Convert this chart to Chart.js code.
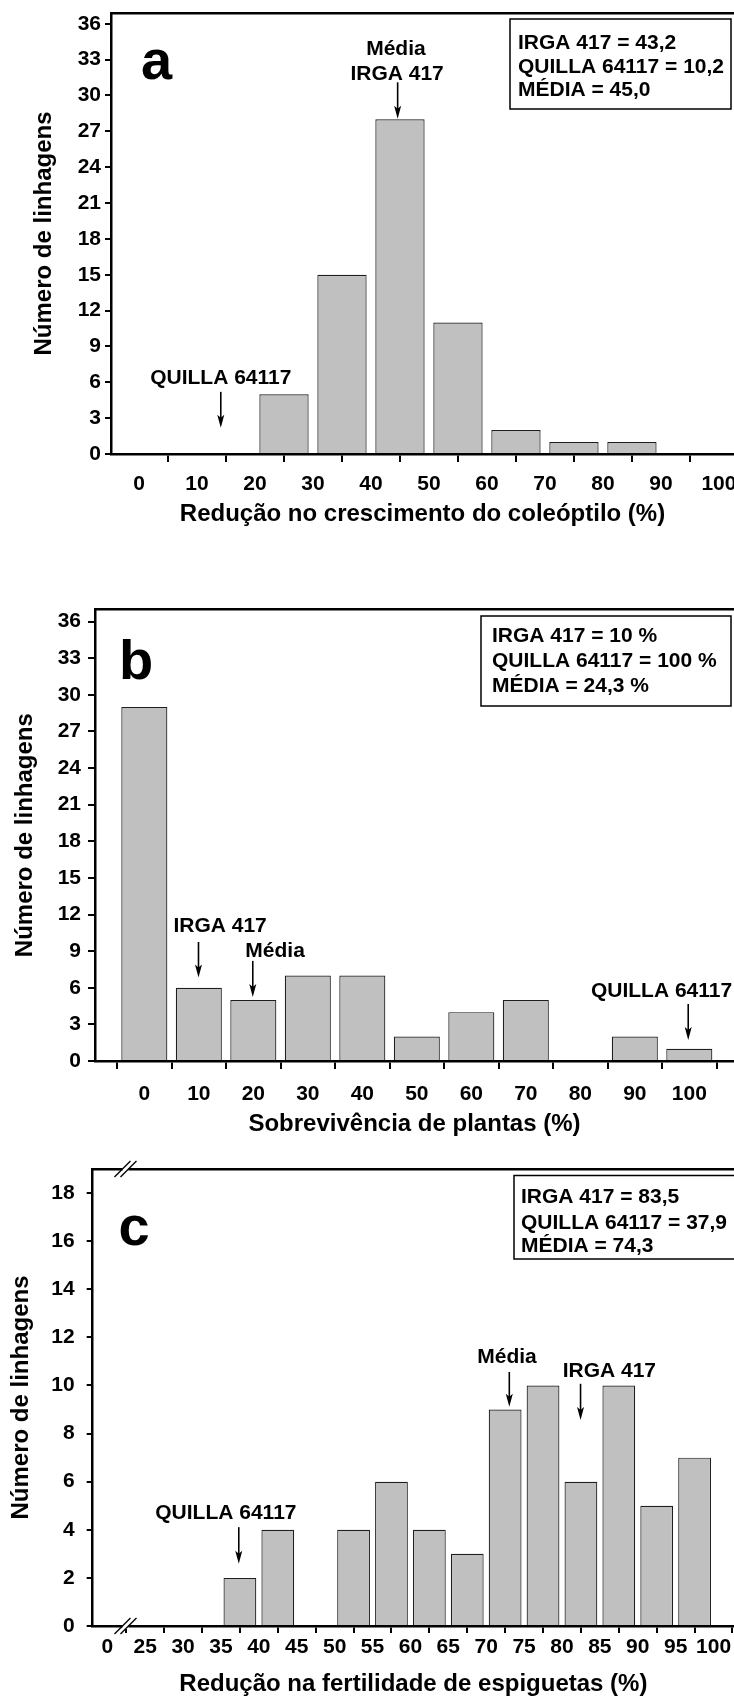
<!DOCTYPE html>
<html><head><meta charset="utf-8">
<script src="https://cdn.jsdelivr.net/npm/chart.js@4.4.1/dist/chart.umd.min.js"></script>
<style>
html,body{margin:0;padding:0;background:#fff;overflow:hidden;width:734px;height:1701px;}
canvas{position:absolute;left:0;}
</style></head><body>
<canvas id="ca" width="734" height="540" style="top:0px"></canvas>
<canvas id="cb" width="734" height="600" style="top:540px"></canvas>
<canvas id="cc" width="734" height="561" style="top:1140px"></canvas>
<script>
// ---------- Panel a: Redução no crescimento do coleóptilo ----------
const aBinCenters = [5, 15, 25, 35, 45, 55, 65, 75, 85, 95];
const aCounts     = [0, 0, 5, 15, 28, 11, 2, 1, 1, 0];
const aTicksX     = [0, 10, 20, 30, 40, 50, 60, 70, 80, 90, 100];
const aTicksY     = [0, 3, 6, 9, 12, 15, 18, 21, 24, 27, 30, 33, 36];
const aArrows     = [{x: 44.6, from: 31.1, to: 28.05}, {x: 14.1, from: 5.2, to: 2.2}];
const aLabels     = [{x: 44.3, y: 33.9, text: 'Média'}, {x: 44.5, y: 31.75, text: 'IRGA 417'}, {x: 14.1, y: 6.37, text: 'QUILLA 64117'}];
const aStats      = ['IRGA 417 = 43,2', 'QUILLA 64117 = 10,2', 'MÉDIA = 45,0'];

// ---------- Panel b: Sobrevivência de plantas ----------
const bClasses = [0, 10, 20, 30, 40, 50, 60, 70, 80, 90, 100];
const bCounts  = [29, 6, 5, 7, 7, 2, 4, 5, 0, 2, 1];
const bTicksX  = [0, 10, 20, 30, 40, 50, 60, 70, 80, 90, 100];
const bTicksY  = [0, 3, 6, 9, 12, 15, 18, 21, 24, 27, 30, 33, 36];
const bArrows  = [{x: 9.94, from: 9.75, to: 6.84}, {x: 19.9, from: 8.2, to: 5.25}, {x: 99.8, from: 4.67, to: 1.72}];
const bLabels  = [{x: 13.9, y: 11.07, text: 'IRGA 417'}, {x: 24.0, y: 9.02, text: 'Média'}, {x: 94.9, y: 5.74, text: 'QUILLA 64117'}];
const bStats   = ['IRGA 417 = 10 %', 'QUILLA 64117 = 100 %', 'MÉDIA = 24,3 %'];

// ---------- Panel c: Redução na fertilidade de espiguetas ----------
const cTickLabels = ['0', '25', '30', '35', '40', '45', '50', '55', '60', '65', '70', '75', '80', '85', '90', '95', '100'];
const cCounts     = [0, 0, 0, 2, 4, 0, 4, 6, 4, 3, 9, 10, 6, 10, 5, 7];
const cTicksY     = [0, 2, 4, 6, 8, 10, 12, 14, 16, 18];
const cArrows     = [{x: 10.61, from: 10.56, to: 9.12}, {x: 12.49, from: 10.07, to: 8.56}, {x: 3.47, from: 4.11, to: 2.59}];
const cLabels     = [{x: 10.55, y: 11.16, text: 'Média'}, {x: 13.25, y: 10.6, text: 'IRGA 417'}, {x: 3.13, y: 4.70, text: 'QUILLA 64117'}];
const cStats      = ['IRGA 417 = 83,5', 'QUILLA 64117 = 37,9', 'MÉDIA = 74,3'];
const cBreakAt    = 0.48;

const FAMILY = '"Liberation Sans", Arial, Helvetica, sans-serif';
Chart.defaults.font.family = FAMILY;
Chart.defaults.color = '#000';

const annotPlugin = {
  id: 'annot',
  afterDraw(chart, args, o) {
    const ctx = chart.ctx, xs = chart.scales.x, ys = chart.scales.y;
    const px = v => xs.getPixelForValue(v), py = v => ys.getPixelForValue(v);
    ctx.save();
    ctx.fillStyle = '#000'; ctx.strokeStyle = '#000';
    // break marks
    if (o.breakAt !== undefined) {
      const bx = px(o.breakAt);
      [chart.chartArea.top, chart.chartArea.bottom].forEach(by => {
        ctx.fillStyle = '#fff';
        ctx.fillRect(bx - 3, by - 3, 6, 6);
        ctx.strokeStyle = '#000'; ctx.lineWidth = 1.3;
        [-3, 3].forEach(d => {
          ctx.beginPath();
          ctx.moveTo(bx + d - 8, by + 8);
          ctx.lineTo(bx + d + 8, by - 8);
          ctx.stroke();
        });
      });
      ctx.fillStyle = '#000';
    }
    // panel letter
    ctx.font = 'bold 56px ' + FAMILY;
    ctx.textAlign = 'center'; ctx.textBaseline = 'alphabetic';
    ctx.fillText(o.letter.text, o.letter.x, o.letter.y);
    // arrows
    ctx.lineWidth = 1.6;
    o.arrows.forEach(a => {
      const x = px(a.x), y1 = py(a.from), y2 = py(a.to);
      ctx.beginPath(); ctx.moveTo(x, y1); ctx.lineTo(x, y2 - 8); ctx.stroke();
      ctx.beginPath(); ctx.moveTo(x, y2); ctx.lineTo(x - 3.5, y2 - 13); ctx.lineTo(x, y2 - 10); ctx.lineTo(x + 3.5, y2 - 13); ctx.closePath(); ctx.fill();
    });
    // labels
    ctx.font = 'bold 21px ' + FAMILY;
    ctx.textAlign = 'center'; ctx.textBaseline = 'middle';
    o.labels.forEach(l => ctx.fillText(l.text, px(l.x), py(l.y)));
    // stats box
    const b = o.box;
    ctx.fillStyle = '#fff';
    ctx.fillRect(b.x, b.y, b.w, b.h);
    ctx.lineWidth = 1.5; ctx.strokeStyle = '#000';
    ctx.strokeRect(b.x, b.y, b.w, b.h);
    ctx.fillStyle = '#000';
    ctx.font = 'bold 21px ' + FAMILY;
    ctx.textAlign = 'left'; ctx.textBaseline = 'middle';
    o.stats.forEach((s, i) => ctx.fillText(s, b.tx, b.ty[i]));
    ctx.restore();
  }
};

function makePanel(id, p) {
  const canvas = document.getElementById(id);
  const H = canvas.height;
  const tickFont = {size: 21, weight: 'bold', family: FAMILY};
  const titleFont = {size: 24, weight: 'bold', family: FAMILY};
  const noPad = s => { s.paddingLeft = 0; s.paddingRight = 0; s.paddingTop = 0; s.paddingBottom = 0; };
  return new Chart(canvas, {
    type: 'bar',
    data: {datasets: [{
      data: p.positions.map((x, i) => ({x: x, y: p.counts[i]})),
      backgroundColor: '#c0c0c0', borderColor: '#1e1e1e', borderWidth: 1.2,
      categoryPercentage: 1, barPercentage: p.barPct
    }]},
    plugins: [annotPlugin],
    options: {
      responsive: false, animation: false, devicePixelRatio: 1,
      layout: {padding: {top: p.area.top, left: 0, right: 0, bottom: 0}},
      plugins: {legend: {display: false}, tooltip: {enabled: false}, annot: p.annot},
      scales: {
        x: {
          type: 'linear', position: 'bottom', min: p.xMin, max: p.xMax, offset: false,
          afterBuildTicks: s => { s.ticks = p.xTicks.map(v => ({value: v})); },
          afterFit: s => { s.height = H - p.area.bottom; noPad(s); },
          ticks: {autoSkip: false, maxRotation: 0, minRotation: 0, padding: p.xTickPad, color: '#000', font: tickFont, callback: p.xLabel},
          grid: {display: true, drawOnChartArea: false, drawTicks: true, tickLength: p.xTickLen, color: '#000', lineWidth: 2},
          border: {display: true, color: '#000', width: 2.5},
          title: {display: true, text: p.xTitle, color: '#000', font: titleFont, padding: {top: 0, bottom: p.xTitlePad}}
        },
        x2: {
          type: 'linear', position: 'top', min: p.xMin, max: p.xMax, display: true,
          afterFit: s => { s.height = 0; noPad(s); },
          ticks: {display: false},
          grid: {display: false, drawTicks: false},
          border: {display: true, color: '#000', width: 2.5}
        },
        y: {
          type: 'linear', position: 'left', min: 0, max: p.yMax,
          afterBuildTicks: s => { s.ticks = p.yTicks.map(v => ({value: v})); },
          afterFit: s => { s.width = p.area.left; noPad(s); },
          ticks: {padding: p.yTickPad, color: '#000', font: tickFont},
          grid: {display: true, drawOnChartArea: false, drawTicks: true, tickLength: p.yTickLen, color: '#000', lineWidth: 2},
          border: {display: true, color: '#000', width: 2.5},
          title: {display: true, text: 'Número de linhagens', color: '#000', font: titleFont, padding: {top: p.yTitlePad, bottom: 0}}
        }
      }
    }
  });
}

makePanel('ca', {
  positions: aBinCenters, counts: aCounts, barPct: 0.85,
  area: {left: 111, top: 13, bottom: 454},
  xMin: -4.83, xMax: 102.6, yMax: 36.9,
  xTicks: aTicksX, yTicks: aTicksY, xLabel: v => String(v),
  xTickPad: 9.4, xTickLen: 8, yTickPad: 4, yTickLen: 6,
  xTitle: 'Redução no crescimento do coleóptilo (%)', xTitlePad: 11.6, yTitlePad: 30.1,
  annot: {
    letter: {text: 'a', x: 156.5, y: 79},
    arrows: aArrows, labels: aLabels, stats: aStats,
    box: {x: 510, y: 19, w: 221, h: 90, tx: 518, ty: [43, 67, 90]}
  }
});

makePanel('cb', {
  positions: bClasses, counts: bCounts, barPct: 0.845,
  area: {left: 95, top: 69.3, bottom: 521},
  xMin: -9.05, xMax: 108.2, yMax: 37.0,
  xTicks: bTicksX, yTicks: bTicksY, xLabel: v => String(v),
  xTickPad: 12.5, xTickLen: 8, yTickPad: 7, yTickLen: 7,
  xTitle: 'Sobrevivência de plantas (%)', xTitlePad: 1.5, yTitlePad: 11.3,
  annot: {
    letter: {text: 'b', x: 136, y: 139},
    arrows: bArrows, labels: bLabels, stats: bStats,
    box: {x: 481, y: 76, w: 250, h: 90, tx: 492, ty: [96, 121, 146]}
  }
});

makePanel('cc', {
  positions: cTickLabels.slice(1).map((_, i) => i + 0.5), counts: cCounts, barPct: 0.865,
  area: {left: 92.7, top: 29, bottom: 486},
  xMin: -0.385, xMax: 16.54, yMax: 19.0,
  xTicks: cTickLabels.map((_, i) => i), yTicks: cTicksY, xLabel: v => cTickLabels[v],
  xTickPad: 1.5, xTickLen: 7, yTickPad: 12, yTickLen: 6,
  xTitle: 'Redução na fertilidade de espiguetas (%)', xTitlePad: 2.0, yTitlePad: 6.6,
  annot: {
    breakAt: cBreakAt,
    letter: {text: 'c', x: 134, y: 105},
    arrows: cArrows, labels: cLabels, stats: cStats,
    box: {x: 514, y: 35.5, w: 260, h: 83.5, tx: 521, ty: [57, 83, 106]}
  }
});
</script>
</body></html>
